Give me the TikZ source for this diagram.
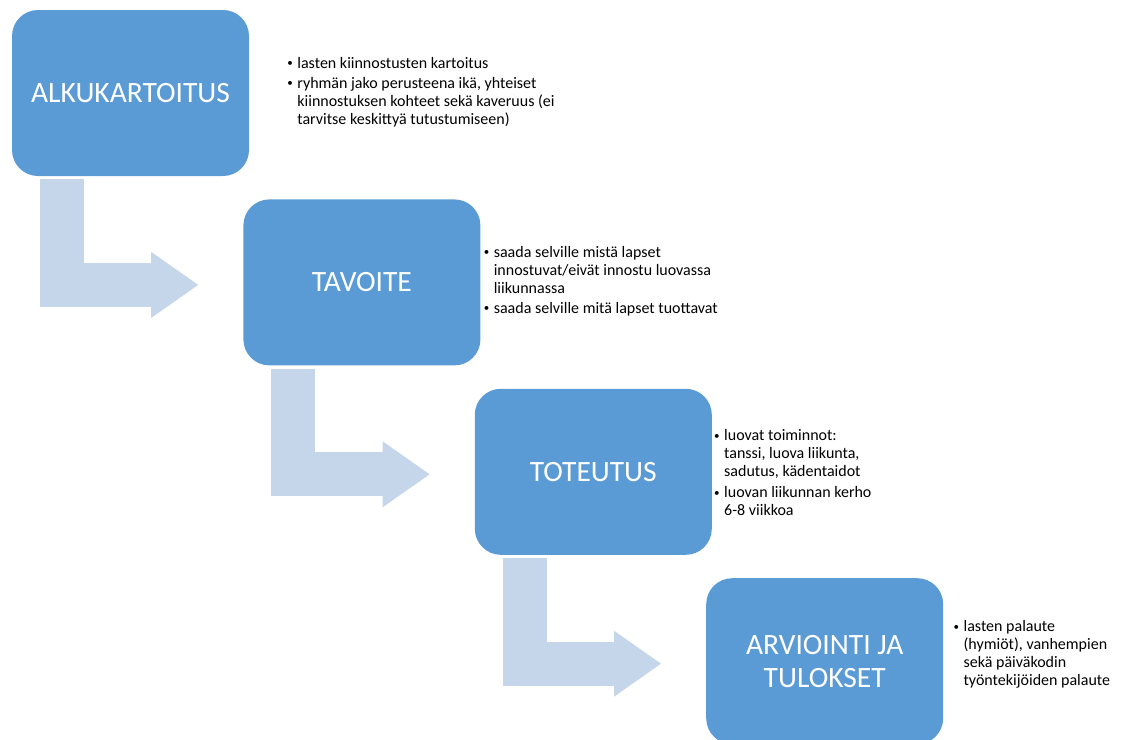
\documentclass[tikz,border=0pt]{standalone}
\usepackage{fontspec}
\setmainfont{Carlito}
\usepackage{tikz}
\usetikzlibrary{arrows.meta, positioning}
\definecolor{StepBlue}{HTML}{5B9BD5}
\definecolor{ArrowTint}{HTML}{C5D5EA}
\newcommand{\dotmark}{\makebox[10pt][l]{\raisebox{1.5pt}{\fontsize{11}{11}\selectfont\textbullet}}}
\tikzset{
  stepbox/.style={rectangle, rounded corners=26pt, fill=StepBlue, text=white, minimum width=237pt, minimum height=166pt, inner sep=0pt, font=\fontsize{29.5}{33}\selectfont, align=center},
  notes/.style={anchor=west, inner sep=0pt, align=left, font=\fontsize{16}{18}\selectfont},
  bentarrow/.style={draw=ArrowTint, line width=44pt, line join=miter, -{Triangle[length=47pt, width=66pt, line width=0pt]}}
}

\begin{document}
\begin{tikzpicture}[x=1pt, y=-1pt]
  \useasboundingbox (0,0) rectangle (1123,739);

  \node[stepbox] (alku) at (130.5,93) {ALKUKARTOITUS};
  \node[stepbox, below right=23pt and -6pt of alku] (tavoite) {TAVOITE};
  \node[stepbox, below right=23pt and -6pt of tavoite] (toteutus) {TOTEUTUS};
  \node[stepbox, below right=23pt and -6pt of toteutus] (arviointi) {ARVIOINTI JA\\TULOKSET};

  \node[notes, right=38pt of alku, yshift=0.5pt] (alkutext) {%
    \begin{tabular}{@{}l@{}l@{}}
      \dotmark & lasten kiinnostusten kartoitus\\[2pt]
      \dotmark & ryhmän jako perusteena ikä, yhteiset\\
      & kiinnostuksen kohteet sekä kaveruus (ei\\
      & tarvitse keskittyä tutustumiseen)
    \end{tabular}};
  \node[notes, right=3pt of tavoite, yshift=1pt] (tavoitetext) {%
    \begin{tabular}{@{}l@{}l@{}}
      \dotmark & saada selville mistä lapset\\
      & innostuvat/eivät innostu luovassa\\
      & liikunnassa\\[2pt]
      \dotmark & saada selville mitä lapset tuottavat
    \end{tabular}};
  \node[notes, right=2pt of toteutus, yshift=-3pt] (toteutustext) {%
    \begin{tabular}{@{}l@{}l@{}}
      \dotmark & luovat toiminnot:\\
      & tanssi, luova liikunta,\\
      & sadutus, kädentaidot\\[3pt]
      \dotmark & luovan liikunnan kerho\\
      & 6-8 viikkoa
    \end{tabular}};
  \node[notes, right=10pt of arviointi, yshift=6pt] (arviointitext) {%
    \begin{tabular}{@{}l@{}l@{}}
      \dotmark & lasten palaute\\
      & (hymiöt), vanhempien\\
      & sekä päiväkodin\\
      & työntekijöiden palaute
    \end{tabular}};

  \draw[bentarrow] ([xshift=50pt, yshift=-3pt]alku.south west) |- ([xshift=-45pt, yshift=-2.5pt]tavoite.west);
  \draw[bentarrow] ([xshift=50pt, yshift=-3pt]tavoite.south west) |- ([xshift=-45pt, yshift=-2.5pt]toteutus.west);
  \draw[bentarrow] ([xshift=50pt, yshift=-3pt]toteutus.south west) |- ([xshift=-45pt, yshift=-2.5pt]arviointi.west);
\end{tikzpicture}
\end{document}
